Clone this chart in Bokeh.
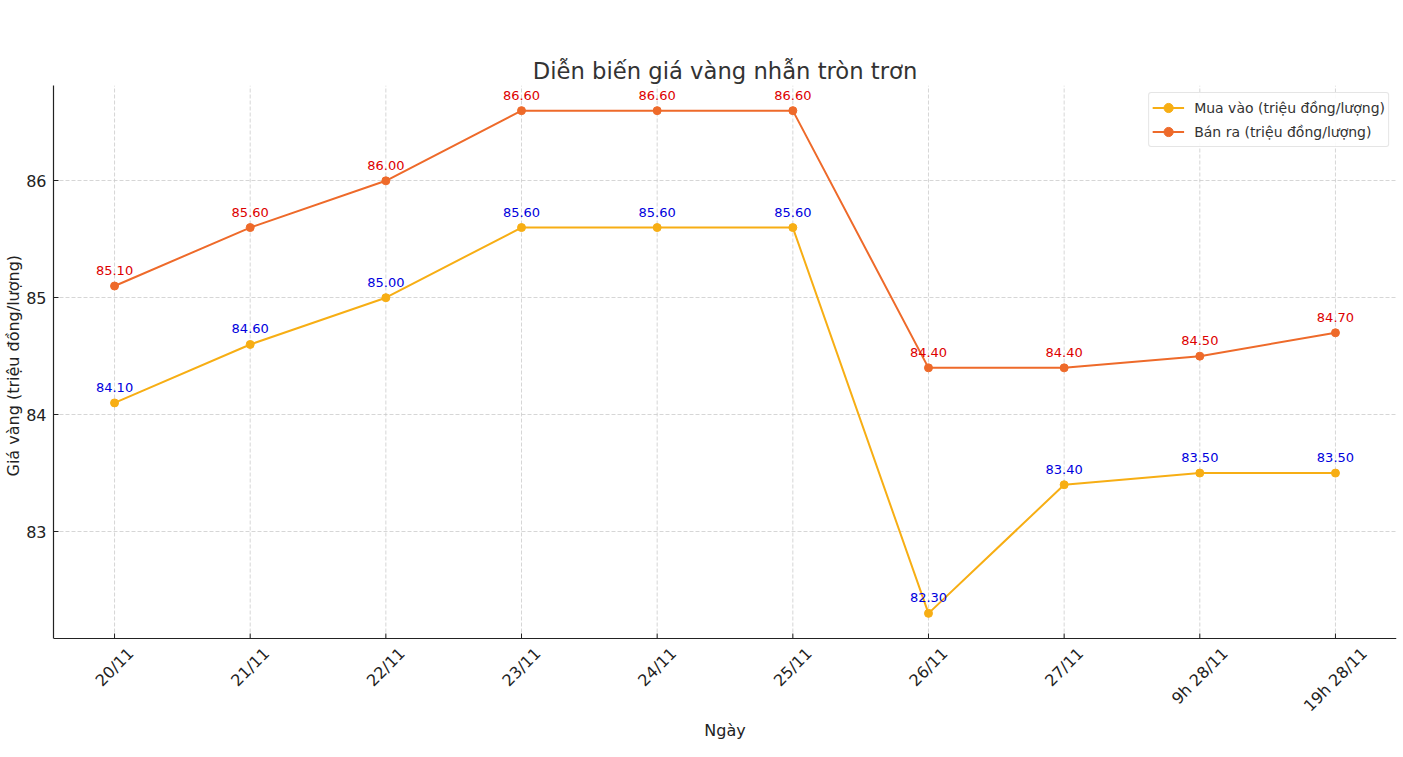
import math
from bokeh.plotting import figure
from bokeh.models import FixedTicker, ColumnDataSource, Legend, LegendItem, Span, Title
from bokeh.embed import file_html
from bokeh.resources import INLINE

dates = ["20/11", "21/11", "22/11", "23/11", "24/11", "25/11", "26/11", "27/11", "9h 28/11", "19h 28/11"]
mua_vao = [84.1, 84.6, 85.0, 85.6, 85.6, 85.6, 82.3, 83.4, 83.5, 83.5]
ban_ra = [85.1, 85.6, 86.0, 86.6, 86.6, 86.6, 84.4, 84.4, 84.5, 84.7]
y_ticks = [83, 84, 85, 86]

FONT = "DejaVu Sans"
C_MUA = "#F7AE14"
C_BAN = "#EE6A2A"
TXT = "#333333"
AX = "#222222"

PLOT_W, PLOT_H = 1343, 553      # data area
EXTRA_H = 107                    # room below the data area for rotated tick labels and x title

x = list(range(len(dates)))
lo = min(mua_vao + ban_ra)
hi = max(mua_vao + ban_ra)
pad = (hi - lo) * 0.05
y0, y1 = lo - pad, hi + pad
ppu = PLOT_H / (y1 - y0)
y_bottom = y0 - EXTRA_H / ppu
x0, x1 = -0.45, len(dates) - 1 + 0.45

p = figure(frame_width=PLOT_W, frame_height=PLOT_H + EXTRA_H, output_backend="svg",
           toolbar_location=None, x_range=(x0, x1), y_range=(y_bottom, y1),
           min_border_left=49, min_border_right=2, min_border_top=85, min_border_bottom=2)
p.outline_line_color = None
p.background_fill_color = "white"
p.border_fill_color = "white"

p.title.text = "Diễn biến giá vàng nhẫn tròn trơn"
p.title.align = "center"
p.title.text_font = FONT
p.title.text_font_size = "22.7px"
p.title.text_font_style = "normal"
p.title.text_color = TXT
p.title.standoff = 4

p.xaxis.visible = False
p.xgrid.visible = False

ya = p.yaxis[0]
ya.bounds = (y0, y1)
ya.ticker = FixedTicker(ticks=y_ticks)
ya.axis_line_color = AX
ya.axis_line_width = 1.2
ya.major_tick_line_color = AX
ya.major_tick_out = 0
ya.major_tick_in = 5
ya.minor_tick_line_color = None
ya.major_label_text_font = FONT
ya.major_label_text_font_size = "16px"
ya.major_label_text_color = AX
ya.major_label_standoff = 7

p.ygrid.grid_line_color = "#cccccc"
p.ygrid.grid_line_dash = "4 2"
p.ygrid.grid_line_width = 0.8

# y title, placed along the data area
p.add_layout(Title(text="Giá vàng (triệu đồng/lượng)", align="left", offset=EXTRA_H + 162,
                   text_font=FONT, text_font_size="16px", text_font_style="normal",
                   text_color=AX, standoff=2), "left")

n = len(dates)
# vertical grid lines over the data area only
p.segment(x0=x, y0=[y0] * n, x1=x, y1=[y1] * n, line_color="#cccccc",
          line_dash="4 2", line_width=0.8)
# x axis line and inward ticks
p.add_layout(Span(location=y0, dimension="width", line_color=AX, line_width=1.2))
p.segment(x0=x, y0=[y0] * n, x1=x, y1=[y0 + 5 / ppu] * n, line_color=AX, line_width=1)

# rotated x tick labels, centred under their ticks
CW = {"/": 0.337, "h": 0.634, " ": 0.318}
def text_w(s, size=16):
    return sum(CW.get(ch, 0.636) for ch in s) * size
offs = [8 + (text_w(d) + 12) * math.sin(math.pi / 4) / 2 for d in dates]
tick_src = ColumnDataSource(dict(x=x, y=[y0] * n, t=dates, off=offs))
p.text("x", "y", text="t", source=tick_src, y_offset="off", angle=math.pi / 4,
       text_align="center", text_baseline="middle", text_font=dict(value=FONT),
       text_font_size="16px", text_color=AX)

# x title
p.text(x=[(x0 + x1) / 2], y=[y0], text=["Ngày"], y_offset=92, text_align="center",
       text_baseline="middle", text_font=dict(value=FONT), text_font_size="16px",
       text_color=AX)

src = ColumnDataSource(dict(x=x, mua=mua_vao, ban=ban_ra,
                            mua_t=[f"{v:.2f}" for v in mua_vao],
                            ban_t=[f"{v:.2f}" for v in ban_ra]))

l1 = p.line("x", "mua", source=src, line_color=C_MUA, line_width=2)
c1 = p.scatter("x", "mua", source=src, size=8, fill_color=C_MUA, line_color=C_MUA)
l2 = p.line("x", "ban", source=src, line_color=C_BAN, line_width=2)
c2 = p.scatter("x", "ban", source=src, size=8, fill_color=C_BAN, line_color=C_BAN)

p.text("x", "mua", text="mua_t", source=src, text_align="center", text_baseline="bottom",
       y_offset=-11, text_font=dict(value=FONT), text_font_size="13px", text_color="#0000DD")
p.text("x", "ban", text="ban_t", source=src, text_align="center", text_baseline="bottom",
       y_offset=-11, text_font=dict(value=FONT), text_font_size="13px", text_color="#DD0000")

legend = Legend(items=[LegendItem(label="Mua vào (triệu đồng/lượng)", renderers=[l1, c1]),
                       LegendItem(label="Bán ra (triệu đồng/lượng)", renderers=[l2, c2])],
                location="top_right")
legend.label_text_font = FONT
legend.label_text_font_size = "14px"
legend.label_text_color = TXT
legend.border_line_color = "#cccccc"
legend.border_line_width = 1
legend.border_radius = 3
legend.background_fill_alpha = 0.9
legend.margin = 7
legend.padding = 3
legend.spacing = 1
legend.glyph_width = 32
legend.glyph_height = 23
legend.label_height = 23
legend.label_standoff = 10
p.add_layout(legend)

open("out.html", "w").write(file_html(p, INLINE))
